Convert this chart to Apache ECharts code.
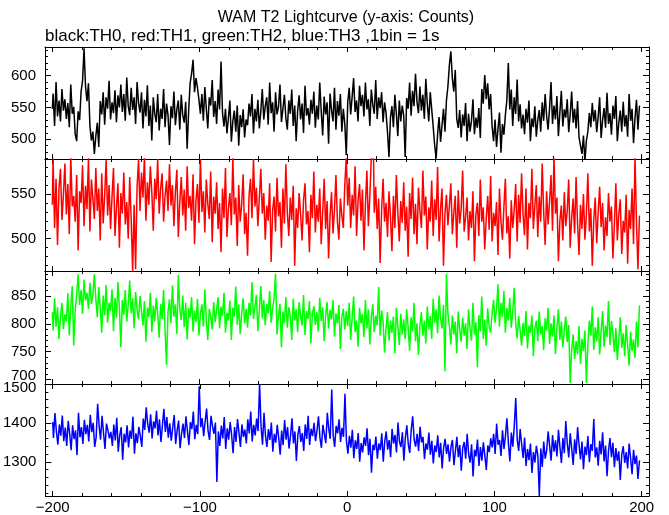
<!DOCTYPE html>
<html><head><meta charset="utf-8">
<script src="https://cdn.jsdelivr.net/npm/echarts@6/dist/echarts.min.js"></script>
<style>html,body{margin:0;padding:0;background:#fff}#c{width:669px;height:515px}</style>
</head><body><div id="c"></div>
<script>
// Bin start time (s) and bin width (1bin = 1s)
const binStart = -200;
const binWidth = 1;

const titleText = 'WAM T2 Lightcurve (y-axis: Counts)';
const subtitleText = 'black:TH0, red:TH1, green:TH2, blue:TH3 ,1bin = 1s';
const seriesNames = ['TH0', 'TH1', 'TH2', 'TH3'];

// TH0 counts (black)
const th0 = [
548,572,521,590,536,561,528,579,545,563,
532,557,519,586,540,551,508,497,544,530,
575,592,643,583,560,588,521,498,512,477,
505,526,488,560,539,574,523,566,548,592,
531,558,541,577,527,569,550,586,543,571,
529,597,552,538,581,546,566,524,590,557,
542,574,517,562,536,585,521,553,498,566,
540,527,571,514,548,532,579,519,556,538,
491,552,533,575,522,547,561,515,570,538,
526,559,485,544,588,603,625,574,596,581,
562,540,571,529,582,548,517,566,553,593,
535,560,524,578,547,622,541,520,548,509,
533,561,496,528,545,512,553,490,538,519,
547,503,531,522,556,536,571,509,548,528,
562,517,544,579,531,552,566,523,589,541,
558,512,574,539,551,586,527,548,570,533,
515,561,540,578,521,553,497,545,569,531,
556,510,584,537,549,523,562,540,575,518,
553,531,589,544,506,567,539,558,493,572,
546,528,581,515,560,537,571,512,548,524,
475,558,581,539,567,596,543,561,528,584,
552,570,536,589,547,563,521,578,555,540,
593,532,566,549,574,527,558,541,511,472,
534,552,519,570,540,505,561,528,553,537,
472,565,548,589,537,576,552,603,559,541,
583,545,570,532,595,556,528,574,547,520,
491,470,508,535,496,522,548,512,561,583,
617,638,596,575,609,532,518,546,503,539,
521,557,497,540,512,529,563,508,534,518,
549,502,579,556,601,563,588,547,571,520,
497,531,488,516,542,479,524,507,538,561,
620,547,578,521,566,540,594,528,555,517,
539,508,548,526,561,497,533,519,552,504,
530,546,512,558,529,571,537,515,549,590,
524,553,531,568,505,542,576,520,547,534,
563,511,539,575,526,548,517,560,503,490,
477,506,465,498,512,541,519,557,528,546,
511,535,566,502,530,549,518,573,524,541,
507,553,532,568,497,526,545,512,559,520,
538,504,571,529,548,494,533,562,515,552
];

// TH1 counts (red)
const th1 = [
538,590,512,567,493,556,578,521,549,584,
527,561,505,592,536,548,519,571,487,553,
540,582,514,559,533,590,508,566,545,522,
579,531,556,498,573,517,548,588,526,560,
511,547,579,503,534,562,490,551,528,574,
516,541,500,569,522,463,538,466,557,589,
531,574,546,592,520,563,538,581,552,509,
567,544,589,528,556,573,519,548,565,531,
583,537,560,514,552,577,502,541,569,526,
555,509,581,534,548,520,572,494,543,561,
518,589,530,553,507,566,539,522,575,496,
547,528,563,511,540,485,556,523,579,502,
534,551,515,590,527,546,492,560,519,538,
572,505,529,481,548,567,523,589,536,557,
514,545,578,528,551,499,537,520,562,474,
531,547,508,568,525,541,490,556,517,583,
529,503,546,521,559,470,534,512,551,527,
498,543,562,516,531,485,549,523,575,507,
538,519,556,494,530,567,511,542,478,525,
552,506,533,571,519,499,545,526,512,560,
591,537,568,512,549,526,581,503,542,561,
520,555,487,538,576,514,547,590,592,529,
558,511,545,473,532,567,519,540,502,553,
525,486,548,512,571,530,497,542,518,563,
509,536,480,551,522,568,505,539,494,557,
531,512,576,526,547,488,535,519,565,503,
544,521,580,497,533,556,470,528,549,515,
537,562,505,529,548,490,554,517,533,576,
508,524,546,498,531,512,553,475,527,540,
503,566,519,535,488,522,548,510,570,497,
529,514,541,482,556,520,499,535,567,506,
525,478,543,512,532,561,497,549,518,573,
527,504,556,488,540,523,578,511,536,560,
502,547,519,584,530,493,553,516,541,571,
509,592,528,546,475,520,537,498,552,514,
531,566,490,523,545,506,569,517,482,538,
511,550,499,527,573,508,534,470,521,546,
495,529,558,513,540,487,524,503,551,519,
536,478,515,562,498,527,544,483,520,507,
549,472,532,511,556,494,592,518,466,525
];

// TH2 counts (green)
const th2 = [
821,788,846,795,830,773,812,838,791,817,
804,855,779,832,868,761,826,852,889,834,
861,818,879,842,856,827,874,836,851,889,
845,812,866,829,784,851,815,870,802,838,
823,862,787,847,811,875,829,758,843,816,
861,804,835,878,819,846,792,857,826,808,
850,823,797,841,768,829,812,856,785,833,
804,847,818,775,836,809,861,790,726,822,
844,801,869,813,835,782,888,826,807,851,
794,838,772,829,811,848,786,824,803,845,
779,818,835,795,862,808,771,827,812,790,
839,803,825,848,792,831,814,856,784,820,
806,842,771,829,813,867,798,835,782,818,
846,801,827,793,838,815,875,809,831,852,
787,824,868,810,843,797,836,819,859,802,
828,846,890,781,815,836,758,822,801,848,
793,830,812,771,845,806,826,785,839,814,
797,852,780,823,809,841,765,818,832,798,
821,786,847,805,830,769,816,839,792,825,
808,843,777,819,801,834,755,812,827,790,
823,796,838,771,812,849,785,806,759,829,
801,818,776,843,792,826,763,811,835,785,
815,797,866,779,824,804,748,792,821,770,
806,784,813,747,829,795,762,818,781,808,
773,826,794,752,812,786,838,769,801,744,
797,821,779,806,765,831,790,814,773,845,
802,826,783,851,811,792,834,715,890,818,
796,763,815,781,804,747,822,790,768,811,
779,801,755,826,792,770,838,781,803,722,
816,787,849,773,808,761,828,795,784,819,
843,802,827,871,795,838,812,859,784,829,
806,847,793,822,865,801,774,814,789,761,
802,778,823,756,797,784,815,742,791,806,
769,822,781,796,753,810,788,829,764,801,
777,815,746,792,826,771,804,758,789,813,
767,798,694,752,781,737,769,745,796,728,
773,751,788,694,762,806,779,831,753,794,
768,812,745,786,823,759,797,776,841,762,
805,783,749,792,735,771,812,757,783,742,
798,763,725,786,751,772,739,804,758,832
];

// TH3 counts (blue)
const th3 = [
1402,1361,1425,1378,1344,1396,1367,1419,1353,1388,
1341,1405,1372,1330,1394,1358,1381,1317,1426,1363,
1389,1346,1408,1371,1395,1352,1421,1376,1400,1338,
1363,1449,1392,1357,1418,1374,1333,1398,1381,1360,
1377,1341,1396,1355,1413,1326,1368,1389,1305,1372,
1350,1394,1337,1380,1359,1416,1321,1373,1348,1390,
1366,1338,1411,1382,1440,1397,1375,1422,1360,1404,
1386,1431,1368,1409,1351,1393,1436,1377,1415,1362,
1399,1354,1388,1420,1346,1381,1406,1335,1372,1398,
1361,1417,1379,1343,1402,1384,1429,1358,1395,1371,
1494,1389,1412,1366,1403,1437,1380,1356,1418,1392,
1372,1401,1248,1378,1341,1393,1360,1415,1333,1386,
1357,1402,1369,1322,1389,1351,1410,1375,1338,1396,
1364,1383,1347,1409,1373,1429,1352,1395,1368,1411,
1379,1500,1391,1344,1426,1367,1338,1384,1356,1401,
1326,1372,1349,1395,1361,1318,1380,1343,1407,1357,
1389,1334,1366,1412,1347,1378,1302,1369,1392,1351,
1374,1328,1396,1359,1418,1343,1385,1366,1400,1353,
1381,1417,1362,1336,1395,1371,1348,1426,1384,1359,
1486,1367,1338,1392,1373,1409,1351,1387,1364,1475,
1353,1321,1367,1336,1382,1309,1355,1333,1374,1300,
1348,1324,1363,1341,1386,1317,1359,1272,1344,1330,
1365,1308,1347,1330,1373,1300,1352,1378,1331,1356,
1312,1385,1347,1369,1324,1401,1352,1338,1376,1303,
1361,1394,1345,1323,1382,1417,1356,1339,1372,1328,
1390,1350,1364,1307,1347,1331,1375,1318,1354,1296,
1342,1325,1368,1311,1349,1283,1336,1359,1320,1345,
1300,1338,1356,1291,1327,1364,1312,1343,1277,1336,
1351,1308,1372,1320,1298,1345,1262,1331,1314,1357,
1289,1338,1303,1350,1316,1279,1342,1325,1360,1337,
1372,1320,1398,1344,1356,1315,1381,1333,1367,1412,
1348,1301,1375,1339,1392,1464,1357,1328,1384,1345,
1310,1362,1289,1333,1304,1347,1271,1325,1298,1341,
1316,1212,1334,1287,1352,1308,1329,1378,1341,1303,
1369,1326,1355,1314,1382,1338,1297,1361,1322,1405,
1347,1311,1373,1334,1292,1358,1320,1389,1343,1306,
1352,1281,1339,1317,1366,1299,1345,1328,1410,1311,
1337,1290,1354,1319,1376,1301,1342,1263,1328,1361,
1312,1349,1286,1335,1302,1327,1253,1318,1340,1297,
1325,1283,1347,1309,1268,1331,1294,1316,1256,1302
];

// ---- presentation ----
const FONT = '"Liberation Sans", Arial, Helvetica, sans-serif';
const allSeries = [th0, th1, th2, th3];
const colors = ['#000000', '#ff0000', '#00ff00', '#0000ff'];
const yRanges = [[469, 645], [464, 589], [692, 895], [1212, 1500]];
const tops = [47, 159, 271, 384];
const heights = [112, 112, 113, 112];
const xRange = [-205, 205];

// labels that sit at a shared panel edge are nudged apart slightly
function yLabelFormatter(panel) {
  return v => {
    if (panel === 2 && v === yRanges[2][0] + 8) return '{up|' + v + '}';
    if (panel === 3 && v === yRanges[3][1]) return '{down|' + v + '}';
    return String(v);
  };
}

const grids = [], xAxes = [], yAxes = [], series = [];
const lineStyle = { color: '#000', width: 1 };
for (let i = 0; i < 4; i++) {
  grids.push({ left: 45, width: 604, top: tops[i], height: heights[i] });
  const xBase = {
    type: 'value', gridIndex: i, min: xRange[0], max: xRange[1], splitNumber: 5,
    axisLine: { show: true, onZero: false, lineStyle },
    axisTick: { show: true, inside: true, length: 5, lineStyle: { color: '#000', width: 1 } },
    minorTick: { show: true, splitNumber: 5, length: 3, lineStyle: { color: '#000', width: 1 } },
    splitLine: { show: false }, minorSplitLine: { show: false }
  };
  xAxes.push(Object.assign({}, xBase, {
    position: 'bottom',
    axisLabel: {
      show: i === 3, color: '#000', fontSize: 15, fontFamily: FONT, margin: 4,
      showMinLabel: false, showMaxLabel: false,
      formatter: v => String(v).replace('-', '\u2212')
    }
  }));
  xAxes.push(Object.assign({}, xBase, { position: 'top', axisLabel: { show: false } }));
  const yBase = {
    type: 'value', gridIndex: i, min: yRanges[i][0], max: yRanges[i][1], splitNumber: 3,
    axisLine: { show: true, onZero: false, lineStyle },
    axisTick: { show: true, inside: true, length: 6, lineStyle: { color: '#000', width: 1 } },
    minorTick: { show: true, splitNumber: 5, length: 3, lineStyle: { color: '#000', width: 1 } },
    splitLine: { show: false }, minorSplitLine: { show: false }
  };
  yAxes.push(Object.assign({}, yBase, {
    position: 'left',
    axisLabel: { show: true, color: '#000', fontSize: 15, fontFamily: FONT, margin: 9,
      lineHeight: 15,
      showMinLabel: false, showMaxLabel: i === 3, formatter: yLabelFormatter(i),
      rich: {
        up: { fontSize: 15, fontFamily: FONT, color: '#000', lineHeight: 15, padding: [0, 0, 8, 0] },
        down: { fontSize: 15, fontFamily: FONT, color: '#000', lineHeight: 15, padding: [8, 0, 0, 0] }
      } }
  }));
  yAxes.push(Object.assign({}, yBase, { position: 'right', axisLabel: { show: false } }));
  const data = allSeries[i].map((v, k) => [binStart + k * binWidth, v]);
  series.push({
    name: seriesNames[i], type: 'line', xAxisIndex: 2 * i, yAxisIndex: 2 * i,
    data, step: 'middle', showSymbol: false, symbol: 'none', clip: true,
    lineStyle: { color: colors[i], width: 1.5 }, itemStyle: { color: colors[i] },
    animation: false, z: 1
  });
}

const chart = echarts.init(document.getElementById('c'), null, { renderer: 'canvas' });
chart.setOption({
  backgroundColor: '#fff',
  animation: false,
  title: [
    { text: titleText, left: 346, top: 10, padding: 0, textAlign: 'center',
      textStyle: { fontSize: 16, fontWeight: 'normal', color: '#000', fontFamily: FONT } },
    { text: subtitleText, left: 45, top: 28, padding: 0,
      textStyle: { fontSize: 17, fontWeight: 'normal', color: '#000', fontFamily: FONT } }
  ],
  grid: grids, xAxis: xAxes, yAxis: yAxes, series
});
</script>
</body></html>
